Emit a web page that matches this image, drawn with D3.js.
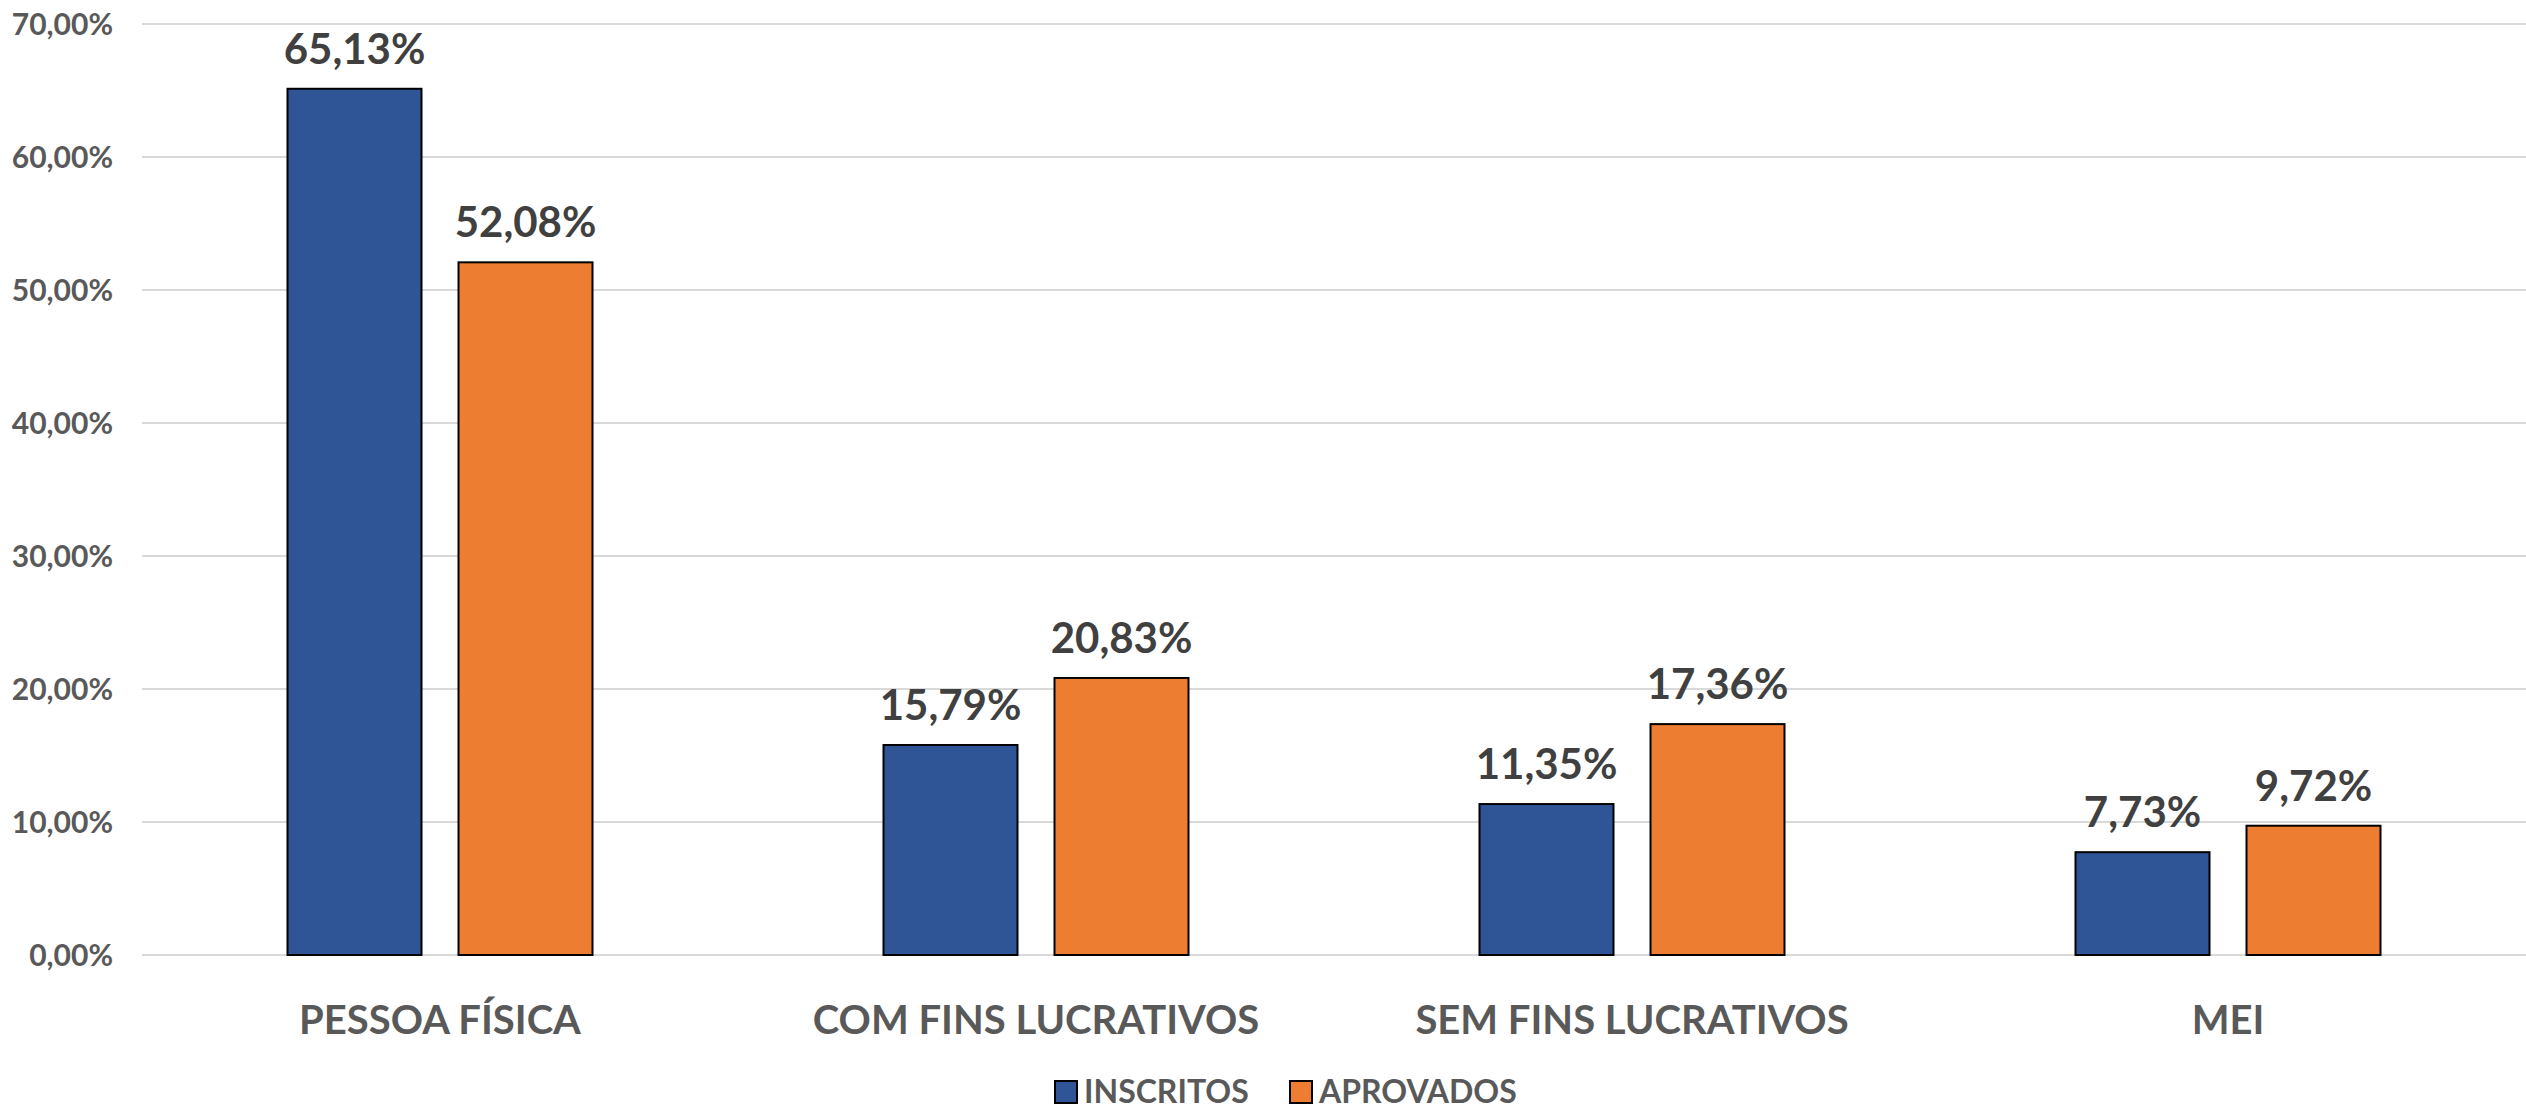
<!DOCTYPE html>
<html>
<head>
<meta charset="utf-8">
<script src="https://cdn.jsdelivr.net/npm/d3@7"></script>
<style>
  html, body { margin: 0; padding: 0; background: #fff; }
  svg text { font-family: Lato, "Open Sans", sans-serif; }
</style>
</head>
<body>
<svg id="chart"></svg>
<script>
const categories = ['PESSOA FÍSICA', 'COM FINS LUCRATIVOS', 'SEM FINS LUCRATIVOS', 'MEI']
const seriesNames = ['INSCRITOS', 'APROVADOS']
const inscritos = [65.13, 15.79, 11.35, 7.73]
const aprovados = [52.08, 20.83, 17.36, 9.72]
const yTicks = [0, 10, 20, 30, 40, 50, 60, 70]
const colors = ['#2F5597', '#ED7D31']

const width = 2526
const height = 1111
const margin = { top: 24, right: 0, bottom: 156, left: 142 }

const svg = d3.select('#chart').attr('width', width).attr('height', height)

const x0 = d3.scaleBand()
  .domain(categories)
  .range([margin.left, width - margin.right])
  .paddingInner(0)
  .paddingOuter(0)

const barW = 134
const barGap = 37
const x1 = d3.scaleOrdinal()
  .domain(seriesNames)
  .range([-(barW + barGap / 2), barGap / 2])

const y = d3.scaleLinear().domain([0, 70]).range([height - margin.bottom, margin.top])

const fmt = v => v.toFixed(2).replace('.', ',') + '%'

// gridlines
svg.append('g')
  .selectAll('line')
  .data(yTicks)
  .enter().append('line')
  .attr('x1', margin.left)
  .attr('x2', width)
  .attr('y1', d => y(d))
  .attr('y2', d => y(d))
  .attr('stroke', '#d9d9d9')
  .attr('stroke-width', 2)

// y axis labels
const yAxis = svg.append('g')
  .attr('transform', `translate(${margin.left - 29},0)`)
  .call(d3.axisLeft(y).tickValues(yTicks).tickFormat(fmt).tickSize(0).tickPadding(0))
yAxis.select('.domain').remove()
yAxis.selectAll('text')
  .attr('font-size', 30)
  .attr('font-weight', 'bold')
  .attr('fill', '#595959')
  .attr('dy', '0.35em')
  .style('font-family', 'Lato, sans-serif')

// x axis labels
const xAxis = svg.append('g')
  .attr('transform', `translate(0,${y(0)})`)
  .call(d3.axisBottom(x0).tickSize(0).tickPadding(51))
xAxis.select('.domain').remove()
xAxis.selectAll('text')
  .attr('font-size', 40)
  .attr('font-weight', 'bold')
  .attr('fill', '#595959')
  .style('font-family', 'Lato, sans-serif')

const rows = categories.map((c, i) => ({ cat: c, values: [
  { key: seriesNames[0], v: inscritos[i] },
  { key: seriesNames[1], v: aprovados[i] }
] }))

const groups = svg.append('g')
  .selectAll('g')
  .data(rows)
  .enter().append('g')
  .attr('transform', d => `translate(${x0(d.cat) + x0.bandwidth() / 2},0)`)

groups.selectAll('rect')
  .data(d => d.values)
  .enter().append('rect')
  .attr('x', d => x1(d.key))
  .attr('width', barW)
  .attr('y', d => y(d.v))
  .attr('height', d => y(0) - y(d.v))
  .attr('fill', (d, i) => colors[i])
  .attr('stroke', '#000')
  .attr('stroke-width', 2)

groups.selectAll('text.val')
  .data(d => d.values)
  .enter().append('text')
  .attr('class', 'val')
  .attr('x', d => x1(d.key) + barW / 2)
  .attr('y', d => y(d.v) - 25)
  .attr('text-anchor', 'middle')
  .attr('font-size', 42)
  .attr('font-weight', 'bold')
  .attr('fill', '#404040')
  .text(d => fmt(d.v))

// legend
const legend = svg.append('g').attr('transform', 'translate(0,1092)')
const legendX = [1055, 1290]
seriesNames.forEach((name, i) => {
  legend.append('rect')
    .attr('x', legendX[i])
    .attr('y', -11)
    .attr('width', 22)
    .attr('height', 22)
    .attr('fill', colors[i])
    .attr('stroke', '#000')
    .attr('stroke-width', 2)
  legend.append('text')
    .attr('x', legendX[i] + 29)
    .attr('y', 0)
    .attr('dy', '0.35em')
    .attr('font-size', 32)
    .attr('font-weight', 'bold')
    .attr('fill', '#595959')
    .text(name)
})
</script>
</body>
</html>
